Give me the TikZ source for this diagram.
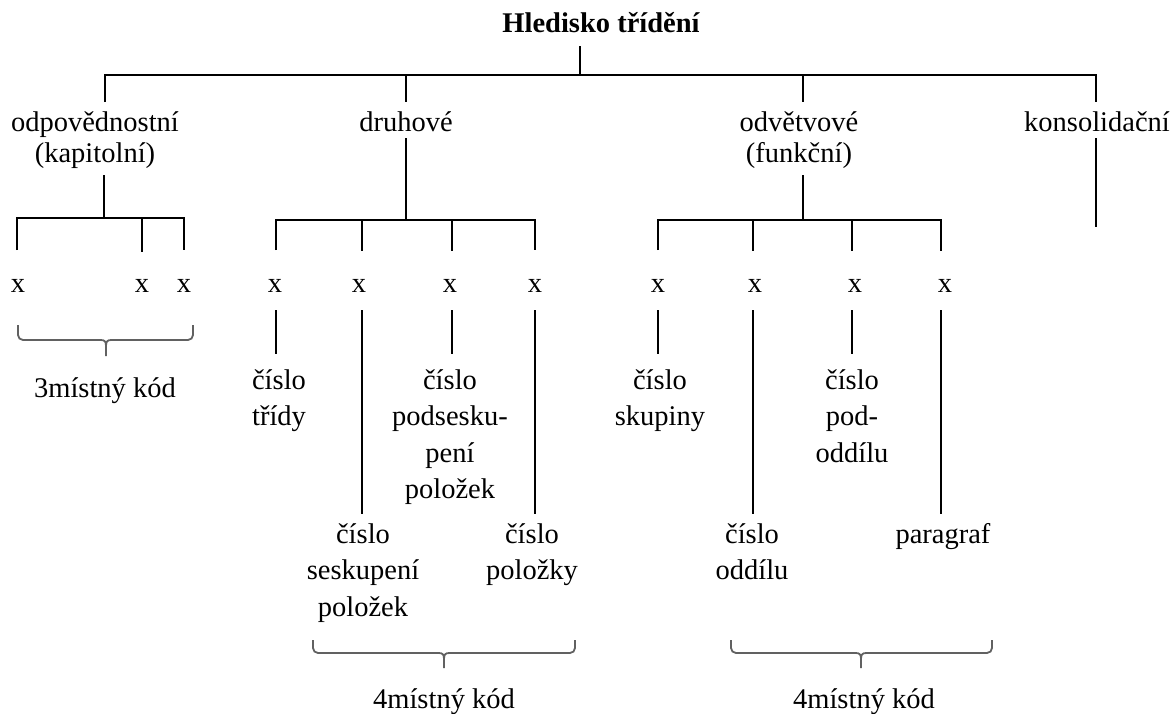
\documentclass[tikz,border=0pt]{standalone}
\usepackage{fontspec}
\setmainfont{Liberation Serif}
\begin{document}
\begin{tikzpicture}[x=1pt,y=-1pt,
  tree/.style={line width=2.2pt,black},
  brace/.style={line width=1.8pt,draw=black!62,rounded corners=5pt},
  lbl/.style={inner sep=0pt,anchor=base,font=\fontsize{28.5}{36.5}\selectfont},
  mlbl/.style={lbl,text width=260pt,align=center},
  hlbl/.style={mlbl,font=\fontsize{28.5}{31}\selectfont},
  xm/.style={lbl}]
\useasboundingbox (0,0) rectangle (1174,713);
% root
\node[lbl,font=\fontsize{28.5}{35}\selectfont\bfseries] (root) at (601,32) {Hledisko třídění};
\coordinate (rs) at (580,46);
\coordinate (rb) at (580,75);
\draw[tree] (rs) -- (rb);
% level 1
\node[hlbl] (odp) at (95,131) {odpovědnostní\\(kapitolní)};
\node[lbl] (dru) at (406,131) {druhové};
\node[hlbl] (odv) at (799,131) {odvětvové\\(funkční)};
\node[lbl] (kon) at (1097,131) {konsolidační};
\coordinate (t1) at (105,102);
\coordinate (t2) at (406,102);
\coordinate (t3) at (803,102);
\coordinate (t4) at (1096,102);
\draw[tree] (t1) -- (t1 |- rb) -- (t4 |- rb) -- (t4);
\draw[tree] (t2 |- rb) -- (t2);
\draw[tree] (t3 |- rb) -- (t3);
% level 2 stems
\coordinate (s1) at (104,175);
\coordinate (s2) at (406,138);
\coordinate (s3) at (803,175);
\coordinate (s4) at (1096,138);
\draw[tree] (s1) -- (104,218);
\draw[tree] (17,250) -- (17,218) -- (184,218) -- (184,250);
\draw[tree] (142,218) -- (142,252);
\draw[tree] (s2) -- (406,220);
\draw[tree] (276,250) -- (276,220) -- (535,220) -- (535,250);
\draw[tree] (362,220) -- (362,251);
\draw[tree] (452,220) -- (452,251);
\draw[tree] (s3) -- (803,220);
\draw[tree] (658,250) -- (658,220) -- (941,220) -- (941,251);
\draw[tree] (753,220) -- (753,251);
\draw[tree] (852,220) -- (852,251);
\draw[tree] (s4) -- (1096,227);
% x marks
\foreach \n/\xx in {a1/18,a2/142,a3/184,b1/275,b2/359,b3/450,b4/535,c1/658,c2/755,c3/855,c4/945}
  \node[xm] (x\n) at (\xx,292) {x};
% lines below x
\draw[tree] (276,310) -- (276,354);
\draw[tree] (362,310) -- (362,514);
\draw[tree] (452,310) -- (452,354);
\draw[tree] (535,310) -- (535,514);
\draw[tree] (658,310) -- (658,354);
\draw[tree] (753,310) -- (753,514);
\draw[tree] (852,310) -- (852,354);
\draw[tree] (941,310) -- (941,514);
% labels
\node[mlbl] (tr) at (279,389) {číslo\\třídy};
\node[mlbl] (pss) at (450,389) {číslo\\podsesku-\\pení\\položek};
\node[mlbl] (ss) at (363,543) {číslo\\seskupení\\položek};
\node[mlbl] (pol) at (532,543) {číslo\\položky};
\node[mlbl] (sk) at (660,389) {číslo\\skupiny};
\node[mlbl] (pod) at (852,389) {číslo\\pod-\\oddílu};
\node[mlbl] (odd) at (752,543) {číslo\\oddílu};
\node[lbl] (par) at (943,543) {paragraf};
% braces
\foreach \xa/\xc/\xb/\yt/\ym/\yp in {18/106/193/325/340/356, 313/444/575/640/653/668, 731/861/992/640/653/668}{
  \draw[brace] (\xa,\yt) -- (\xa,\ym) -- (\xc-5,\ym);
  \draw[brace] (\xb,\yt) -- (\xb,\ym) -- (\xc+5,\ym);
  \draw[line width=1.8pt,draw=black!62] (\xc-5,\ym) .. controls (\xc-1,\ym) and (\xc,\ym+2) .. (\xc,\ym+6) -- (\xc,\yp);
  \draw[line width=1.8pt,draw=black!62] (\xc+5,\ym) .. controls (\xc+1,\ym) and (\xc,\ym+2) .. (\xc,\ym+6);
}
\node[lbl] (k3) at (105,397) {3místný kód};
\node[lbl] (k4a) at (444,708) {4místný kód};
\node[lbl] (k4b) at (864,708) {4místný kód};
\end{tikzpicture}
\end{document}
